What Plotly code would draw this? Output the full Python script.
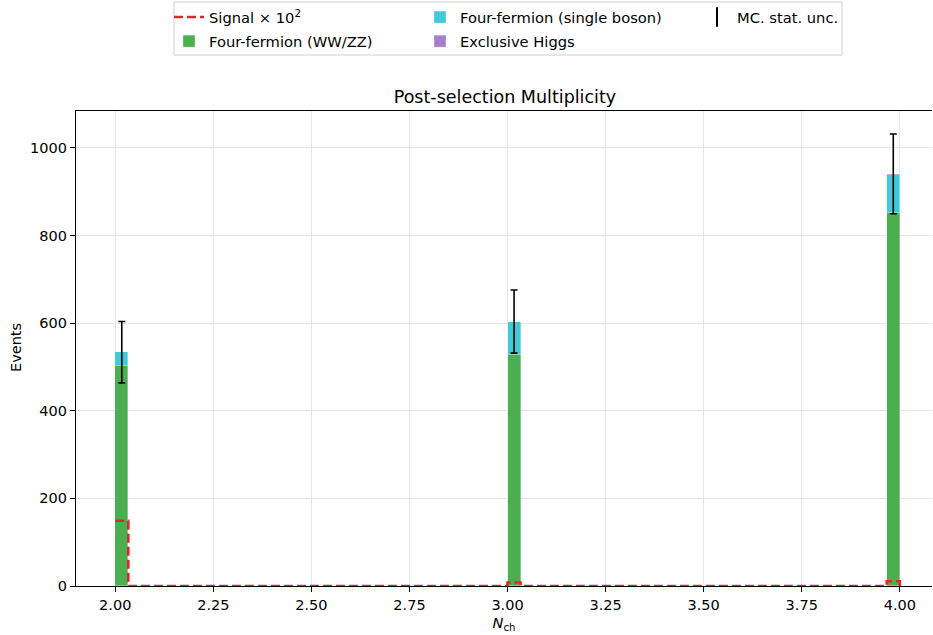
import plotly.graph_objects as go

# ---- data ----
n_ch_values = [2, 3, 4]
ww_zz = [502, 527, 851]
single_boson = [31, 76, 87]
excl_higgs = [0.5, 0.5, 2.5]
stat_unc = [70, 72, 91]
signal = [1.49, 0.08, 0.11]          # plotted x 10^2
signal_scale = 100

# histogram binning
bin_lo, bin_hi, n_bins = 2.0, 4.0, 60
bw = (bin_hi - bin_lo) / n_bins
edges = [bin_lo + i * bw for i in range(n_bins + 1)]

def bin_index(v):
    return min(int((v - bin_lo) / bw + 1e-9), n_bins - 1)

idx = [bin_index(v) for v in n_ch_values]
left = [edges[i] for i in idx]
centers = [edges[i] + bw / 2 for i in idx]
totals = [a + b + c for a, b, c in zip(ww_zz, single_boson, excl_higgs)]

# signal step outline over all bins
sig_bins = [0.0] * n_bins
for i, s in zip(idx, signal):
    sig_bins[i] = s * signal_scale
step_x = list(edges) + [edges[-1]]
step_y = sig_bins + [sig_bins[-1], 0.0]

GREEN = "#4caf4f"
CYAN = "#40c9d7"
PURPLE = "#a57fc9"
RED = "#e0282b"
FONT = "DejaVu Sans"

W, H = 933, 635
ML, MR, MT, MB = 76, 1, 111, 49

fig = go.Figure()
edge = dict(color="rgba(255,255,255,0.55)", width=0.6)
fig.add_trace(go.Bar(x=left, y=ww_zz, width=bw, offset=0, marker=dict(color=GREEN, line=edge),
                     name="Four-fermion (WW/ZZ)", legend="legend", legendrank=2, legendgroup="g2"))
fig.add_trace(go.Bar(x=left, y=single_boson, width=bw, offset=0, marker=dict(color=CYAN, line=edge),
                     name="Four-fermion (single boson)", legend="legend2", legendrank=1, legendgroup="g3"))
fig.add_trace(go.Bar(x=left, y=excl_higgs, width=bw, offset=0, marker=dict(color=PURPLE, line=edge),
                     name="Exclusive Higgs", legend="legend2", legendrank=2, legendgroup="g4"))
fig.add_trace(go.Scatter(x=step_x, y=step_y, mode="lines",
                         line=dict(color=RED, width=2.6, dash="9px,4px", shape="hv"),
                         name="Signal × 10<sup>2</sup>", legend="legend", legendrank=1, legendgroup="g1"))
fig.add_trace(go.Scatter(x=centers, y=totals, mode="markers", marker=dict(size=1, opacity=0),
                         error_y=dict(type="data", array=stat_unc, color="black", thickness=1.6, width=3.5),
                         showlegend=False, hoverinfo="skip"))
fig.add_trace(go.Scatter(x=[None], y=[None], mode="markers",
                         marker=dict(symbol="line-ns-open", size=14, color="black",
                                     line=dict(color="black", width=2)),
                         name="MC. stat. unc.", legend="legend3", legendgroup="g5"))

def leg(px_left, px_top):
    return dict(orientation="v", xref="container", yref="container",
                x=px_left / W, xanchor="left", y=1 - px_top / H, yanchor="top",
                bgcolor="rgba(0,0,0,0)", borderwidth=0, tracegroupgap=2,
                font=dict(size=14.7, family=FONT), traceorder="grouped")

fig.update_layout(
    width=W, height=H,
    barmode="stack", bargap=0,
    plot_bgcolor="white", paper_bgcolor="white",
    font=dict(family=FONT, size=14.5, color="black"),
    margin=dict(l=ML, r=MR, t=MT, b=MB, autoexpand=False),
    title=dict(text="Post-selection Multiplicity", x=0.5412, xanchor="center",
               y=1 - 97 / H, yanchor="middle", font=dict(size=17.5, family=FONT)),
    legend=leg(169, 1),
    legend2=leg(420, 1),
    legend3=leg(697, 1),
    showlegend=True,
)

# pixel -> paper helpers for decorations outside the plot area
pw, ph = W - ML - MR, H - MT - MB
def px_to_paper_x(px):
    return (px - ML) / pw
def px_to_paper_y(py):
    return (H - MB - py) / ph

# legend frame
fig.add_shape(type="rect", xref="paper", yref="paper",
              x0=px_to_paper_x(174), x1=px_to_paper_x(842),
              y0=px_to_paper_y(55), y1=px_to_paper_y(2),
              line=dict(color="#d0d0d0", width=1), fillcolor="rgba(255,255,255,0.8)", layer="below")

# y-axis title
fig.add_annotation(text="Events", textangle=-90, xref="paper", yref="paper",
                   x=px_to_paper_x(16), y=px_to_paper_y(348), xanchor="center", yanchor="middle",
                   showarrow=False, font=dict(size=14.5, family=FONT))

fig.update_xaxes(range=[1.9, 4.082], tickmode="linear", tick0=2.0, dtick=0.25, tickformat=".2f",
                 showgrid=True, gridcolor="#e6e6e6", gridwidth=1, zeroline=False,
                 showline=True, linecolor="black", linewidth=1.2, mirror=True,
                 ticks="outside", ticklen=5, tickcolor="black",
                 title=dict(text="<i>N</i><sub>ch</sub>", standoff=6, font=dict(size=14.5)))
fig.update_yaxes(range=[0, 1084], tickmode="linear", tick0=0, dtick=200,
                 showgrid=True, gridcolor="#e6e6e6", gridwidth=1, zeroline=False,
                 showline=True, linecolor="black", linewidth=1.2, mirror=False,
                 ticks="outside", ticklen=5, tickcolor="black")

fig.write_html("out.html")
